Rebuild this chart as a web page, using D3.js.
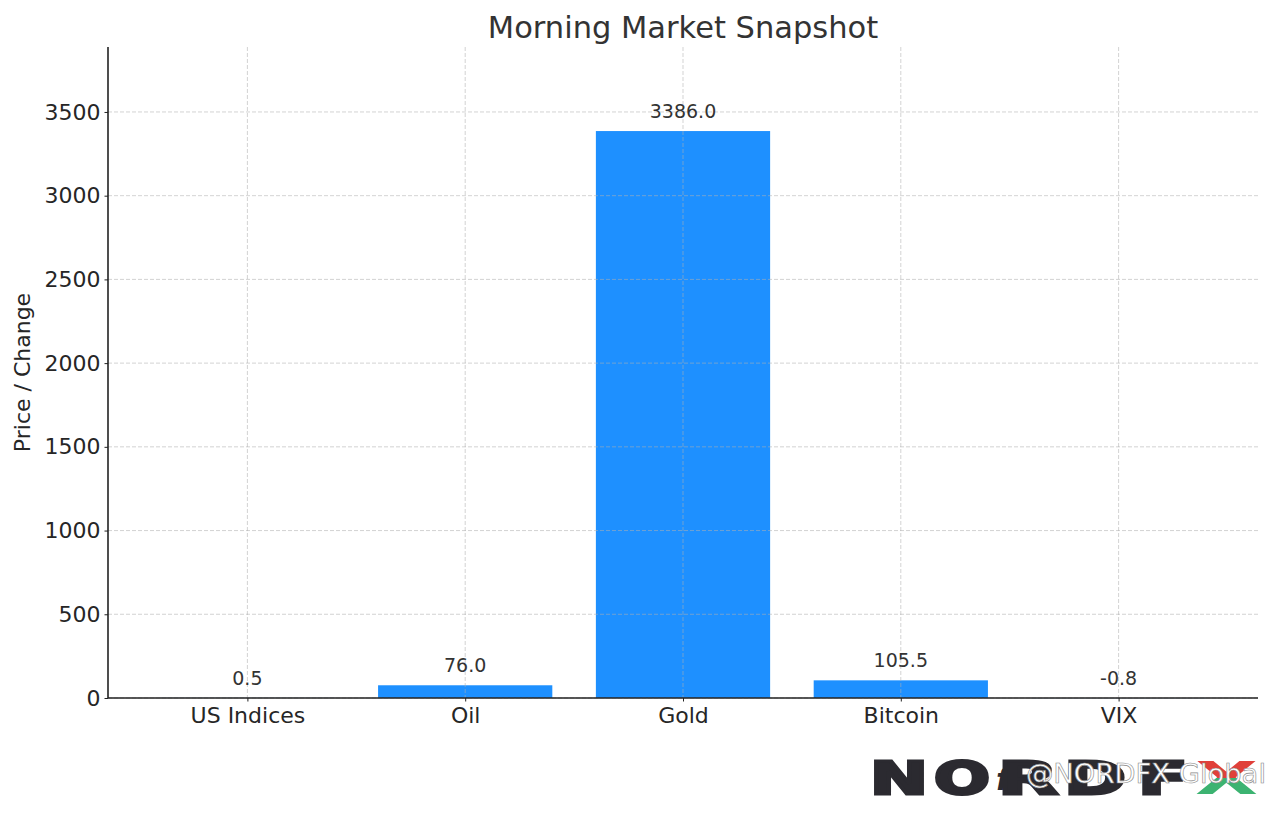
<!DOCTYPE html>
<html><head><meta charset="utf-8">
<script src="https://cdn.jsdelivr.net/npm/d3@7"></script>
<style>body{margin:0;background:#fff}svg{display:block}text{font-family:"DejaVu Sans",sans-serif}</style>
</head><body>
<svg id="c" width="1280" height="817"></svg>
<script>
const categories = ["US Indices","Oil","Gold","Bitcoin","VIX"];
const values = [0.5, 76.0, 3386.0, 105.5, -0.8];
const yTicks = [0,500,1000,1500,2000,2500,3000,3500];
const title = "Morning Market Snapshot";
const yLabel = "Price / Change";

const svg = d3.select("#c");
const L=108, R=1258, T=47, B=698;
const x = d3.scaleLinear().domain([-0.64, 4.64]).range([L,R]);
const y = d3.scaleLinear().domain([0, 3888]).range([B,T]);
const bw = x(0.8)-x(0);

// bars
svg.append("g").selectAll("rect").data(values).join("rect")
  .attr("x",(d,i)=>x(i)-bw/2).attr("width",bw)
  .attr("y",d=>y(Math.max(d,0))).attr("height",d=>Math.abs(y(d)-y(0)))
  .attr("fill","#1E90FF");

// grid
const g = svg.append("g").attr("stroke","#b0b0b0").attr("stroke-opacity",0.7).attr("stroke-width",0.8).attr("stroke-dasharray","4,2");
g.selectAll("line.h").data(yTicks).join("line").attr("x1",L).attr("x2",R).attr("y1",d=>y(d)).attr("y2",d=>y(d));
g.selectAll("line.v").data(categories).join("line").attr("y1",T).attr("y2",B).attr("x1",(d,i)=>x(i)).attr("x2",(d,i)=>x(i));

// axes
const yAxis = svg.append("g").attr("transform",`translate(${L},0)`)
  .call(d3.axisLeft(y).tickValues(yTicks).tickSize(3.5).tickPadding(4).tickFormat(d3.format("d")));
yAxis.select(".domain").attr("d",`M0,${B}V${T}`);
const xAxis = svg.append("g").attr("transform",`translate(0,${B})`)
  .call(d3.axisBottom(x).tickValues(categories.map((d,i)=>i)).tickSize(3.5).tickPadding(6).tickFormat(i=>categories[i]));
xAxis.select(".domain").attr("d",`M${L},0H${R}`);
[yAxis,xAxis].forEach(a=>{
  a.select(".domain").attr("stroke","#222").attr("stroke-width",1.6);
  a.selectAll(".tick line").attr("stroke","#222").attr("stroke-width",1);
  a.selectAll(".tick text").attr("font-size",22).attr("fill","#262626").attr("font-family","DejaVu Sans");
});

// value labels
svg.append("g").selectAll("text").data(values).join("text")
  .attr("x",(d,i)=>x(i)).attr("y",d=>y(Math.max(d,0))-13)
  .attr("text-anchor","middle").attr("font-size",19).attr("fill","#333")
  .text(d=>d.toFixed(1));

// title and y label
svg.append("text").attr("x",(L+R)/2).attr("y",38).attr("text-anchor","middle")
  .attr("font-size",30.5).attr("fill","#333").text(title);
svg.append("text").attr("transform",`translate(30,${(T+B)/2}) rotate(-90)`).attr("text-anchor","middle")
  .attr("font-size",22).attr("fill","#262626").text(yLabel);

// watermark logo
const defs = svg.append("defs");
const lg = defs.append("linearGradient").attr("id","xg").attr("x1",0).attr("x2",0).attr("y1",0).attr("y2",1);
lg.append("stop").attr("offset","50%").attr("stop-color","#e0403a");
lg.append("stop").attr("offset","50%").attr("stop-color","#3cb371");
const letters = [["N",870,58],["O",934,56],["R",998,60],["D",1064,62],["F",1138,50],["X",1195,63]];
const wm = svg.append("g");
wm.selectAll("text").data(letters).join("text")
  .attr("x",d=>d[1]).attr("y",794).attr("textLength",d=>d[2]).attr("lengthAdjust","spacingAndGlyphs")
  .attr("font-family","Liberation Sans").attr("font-weight",900).attr("font-size",45)
  .attr("fill",d=>d[0]==="X"?"url(#xg)":"#2b2a30").attr("stroke",d=>d[0]==="X"?"none":"#2b2a30").attr("stroke-width",3)
  .text(d=>d[0]);
wm.append("text").attr("x",996).attr("y",790).attr("font-family","DejaVu Serif").attr("font-style","italic")
  .attr("font-weight","bold").attr("font-size",30).attr("fill","#2b2a30").text("f");
wm.append("text").attr("x",1026).attr("y",783).attr("font-family","Liberation Sans").attr("font-size",27)
  .attr("textLength",240).attr("lengthAdjust","spacingAndGlyphs")
  .attr("fill","#fff").attr("stroke","#888").attr("stroke-width",0.6).text("@NORDFX Global");
</script>
</body></html>
